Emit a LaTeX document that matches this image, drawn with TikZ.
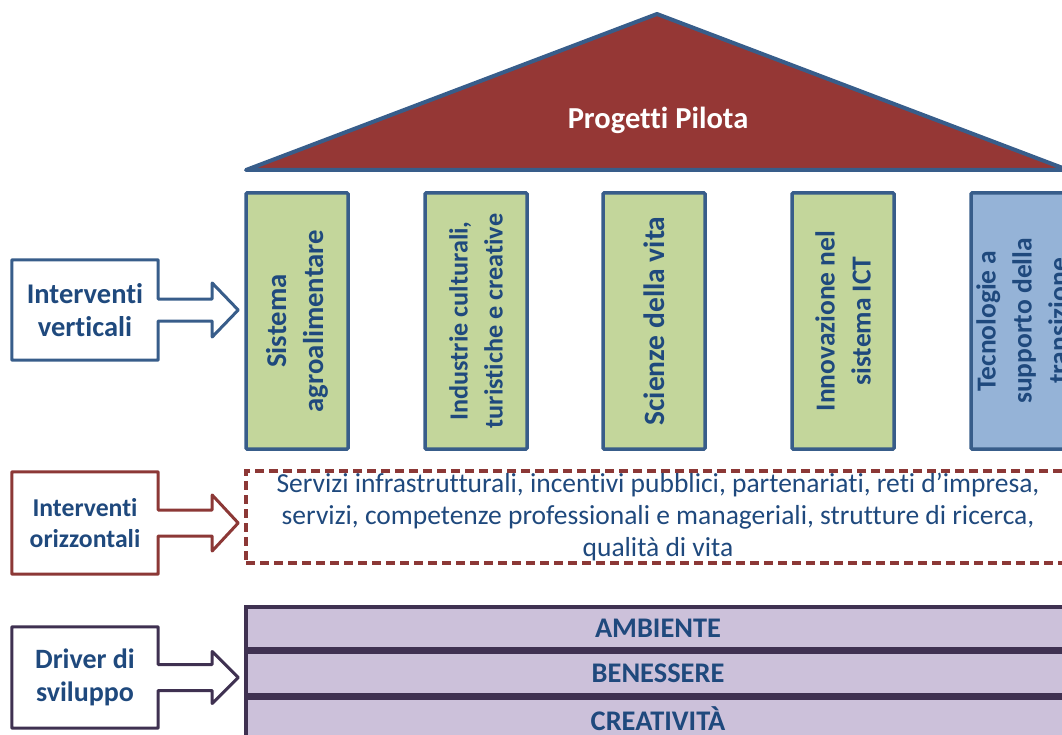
\documentclass[tikz,border=0pt]{standalone}
\usepackage{fontspec}
\setmainfont{Carlito}[Ligatures=NoCommon]
\usetikzlibrary{positioning, calc}
\definecolor{bordblu}{RGB}{56,93,138}
\definecolor{bordross}{RGB}{140,56,54}
\definecolor{bordviola}{RGB}{63,49,81}
\definecolor{tetto}{RGB}{149,55,53}
\definecolor{verde}{RGB}{195,214,155}
\definecolor{azzurro}{RGB}{149,179,215}
\definecolor{lilla}{RGB}{204,193,218}
\definecolor{testo}{RGB}{31,73,125}

\begin{document}
\begin{tikzpicture}[
    x=1pt, y=-1pt,
    pil/.style={draw=bordblu, line width=3.5pt, rounded corners=1pt, fill=verde, rotate=90,
        minimum width=256pt, minimum height=102pt, inner sep=2pt, align=center, text=testo,
        font=\fontsize{27.5}{36}\selectfont\bfseries},
    lab/.style={minimum width=146pt, minimum height=100pt, inner sep=0pt, align=center, text=testo,
        font=\fontsize{28.5}{33}\selectfont\bfseries},
    frc/.style={line width=3pt, line join=round},
    drv/.style={draw=bordviola, line width=3.5pt, fill=lilla, minimum width=824pt, minimum height=42pt,
        inner sep=0pt, text=testo, font=\fontsize{28.4}{30}\selectfont\bfseries}
]
\useasboundingbox (0,0) rectangle (1062,735);
\clip (0,0) rectangle (1062,735);

% tetto
\draw[line width=4pt, line join=round, draw=bordblu, fill=tetto] (246,170) -- (657,14) -- (1068,170) -- cycle;
\node[text=white, font=\fontsize{30.5}{32}\selectfont\bfseries] (pp) at (658,120) {Progetti Pilota};

% pilastri
\node[pil, font=\fontsize{28.7}{37}\selectfont\bfseries] (p1) at (297,321) {Sistema\\agroalimentare};
\node[pil, font=\fontsize{26.2}{35}\selectfont\bfseries] (p2) at (476,321) {Industrie culturali,\\turistiche e creative};
\node[pil, font=\fontsize{29.5}{38}\selectfont\bfseries] (p3) at (654,321) {Scienze della vita};
\node[pil] (p4) at (843,321) {Innovazione nel\\sistema ICT};
\node[pil, fill=azzurro] (p5) at (1022,321) {Tecnologie a\\supporto della\\transizione};

% interventi orizzontali
\node[draw=bordross, line width=3.5pt, dash pattern=on 9pt off 5pt, minimum width=824pt, minimum height=92pt,
    inner sep=0pt, align=center, text=testo, font=\fontsize{27.5}{32}\selectfont] (oriz) at (658,517)
    {Servizi infrastrutturali, incentivi pubblici, partenariati, reti d’impresa,\\
     servizi, competenze professionali e manageriali, strutture di ricerca,\\
     qualità di vita};

% driver
\node[drv] (amb) at (658,628) {AMBIENTE};
\node[drv, below=0pt of amb] (ben) {BENESSERE};
\node[drv, below=0pt of ben] (cre) {CREATIVITÀ};

% etichette a sinistra
\node[lab] (lv) at (85,310) {Interventi\\verticali};
\node[lab, minimum height=102pt, font=\fontsize{25.7}{31}\selectfont\bfseries] (lo) at (85,523) {Interventi\\orizzontali};
\node[lab, minimum height=101pt, font=\fontsize{28}{33}\selectfont\bfseries] (ld) at (85,677.5) {Driver di\\sviluppo};

\draw[frc, draw=bordblu] (lv.north west) -- (lv.north east) -- ($(lv.east)+(0,-11)$) -- ++(54,0) -- ++(0,-16)
    -- ($(lv.east)+(80,0)$) -- ($(lv.east)+(54,27)$) -- ++(0,-16) -- ($(lv.east)+(0,11)$)
    -- (lv.south east) -- (lv.south west) -- cycle;
\draw[frc, draw=bordross] (lo.north west) -- (lo.north east) -- ($(lo.east)+(0,-13)$) -- ++(54,0) -- ++(0,-15)
    -- ($(lo.east)+(80,0)$) -- ($(lo.east)+(54,28)$) -- ++(0,-15) -- ($(lo.east)+(0,13)$)
    -- (lo.south east) -- (lo.south west) -- cycle;
\draw[frc, draw=bordviola] (ld.north west) -- (ld.north east) -- ($(ld.east)+(0,-13)$) -- ++(54,0) -- ++(0,-13)
    -- ($(ld.east)+(80,0)$) -- ($(ld.east)+(54,26)$) -- ++(0,-13) -- ($(ld.east)+(0,13)$)
    -- (ld.south east) -- (ld.south west) -- cycle;
\end{tikzpicture}
\end{document}
